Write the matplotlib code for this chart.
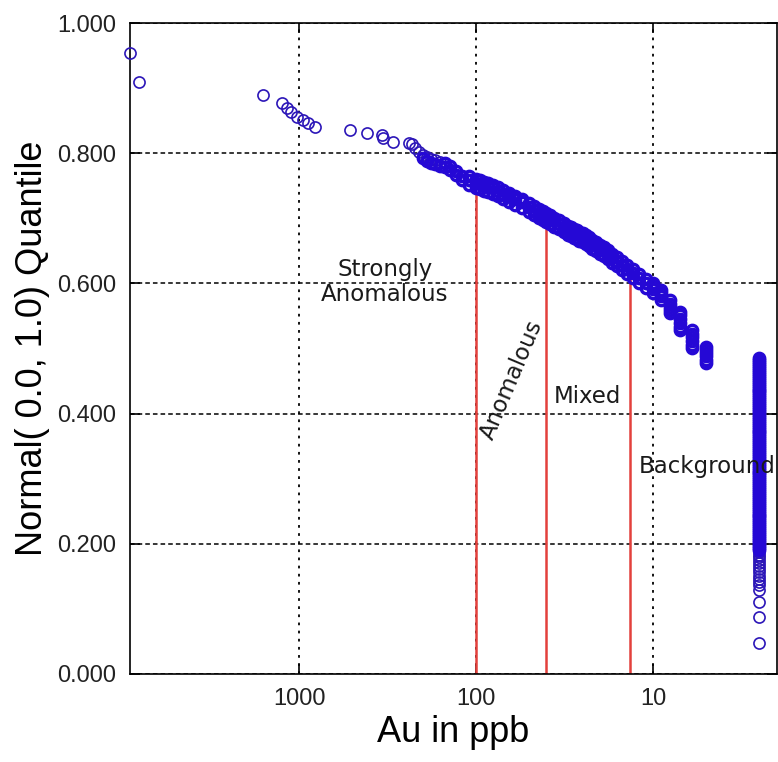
import matplotlib
matplotlib.use("Agg")
import matplotlib.pyplot as plt

# sparse high-grade samples (ppb, quantile)
au_sparse = [9000, 8020, 1596, 1247, 1169, 1110, 1026, 949, 889, 812, 515, 413, 340, 335, 294]
q_sparse = [0.954, 0.909, 0.889, 0.877, 0.869, 0.863, 0.856, 0.851, 0.846, 0.840,
            0.836, 0.831, 0.828, 0.823, 0.817]

# dense part of the curve (middle of the band)
au_curve = [240, 230, 220, 210, 200, 190, 180, 170, 160, 150, 140, 130, 120, 110, 100,
            95, 90, 85, 80, 75, 70, 65, 60, 55, 50, 47, 44, 42, 40, 38, 36, 34, 32, 30,
            29, 28, 27, 26, 25, 24, 23, 22, 21, 20, 19, 18, 17, 16, 15, 14, 13, 12, 11]
q_curve = [0.8164, 0.8141, 0.8080, 0.8018, 0.7980, 0.7942, 0.7911, 0.7888, 0.7865, 0.7842,
           0.7796, 0.7727, 0.7650, 0.7588, 0.7542, 0.7527, 0.7504, 0.7481, 0.7458, 0.7419,
           0.7373, 0.7335, 0.7289, 0.7243, 0.7181, 0.7135, 0.7089, 0.7058, 0.7020, 0.6989,
           0.6951, 0.6912, 0.6874, 0.6828, 0.6805, 0.6782, 0.6759, 0.6736, 0.6713, 0.6682,
           0.6651, 0.6613, 0.6575, 0.6536, 0.6498, 0.6452, 0.6398, 0.6344, 0.6283, 0.6221,
           0.6160, 0.6083, 0.6006]

# upper and lower edge of the band, 110 ppb down to 11 ppb
au_band = [110, 100, 95, 90, 85, 80, 75, 70, 65, 60, 55, 50, 47, 44, 42, 40, 38, 36, 34, 32,
           30, 29, 28, 27, 26, 25, 24, 23, 22, 21, 20, 19, 18, 17, 16, 15, 14, 13, 12, 11]
q_band_top = [0.7648, 0.7602, 0.7587, 0.7564, 0.7541, 0.7518, 0.7479, 0.7433, 0.7395, 0.7349,
              0.7303, 0.7241, 0.7195, 0.7149, 0.7118, 0.7080, 0.7049, 0.7011, 0.6972, 0.6934,
              0.6888, 0.6865, 0.6842, 0.6819, 0.6796, 0.6773, 0.6742, 0.6711, 0.6673, 0.6635,
              0.6596, 0.6558, 0.6512, 0.6458, 0.6404, 0.6343, 0.6281, 0.6220, 0.6143, 0.6066]
q_band_low = [0.7508, 0.7462, 0.7447, 0.7424, 0.7401, 0.7378, 0.7339, 0.7293, 0.7255, 0.7209,
              0.7163, 0.7101, 0.7055, 0.7009, 0.6978, 0.6940, 0.6909, 0.6871, 0.6832, 0.6794,
              0.6748, 0.6725, 0.6702, 0.6679, 0.6656, 0.6633, 0.6602, 0.6571, 0.6533, 0.6495,
              0.6456, 0.6418, 0.6372, 0.6318, 0.6264, 0.6203, 0.6141, 0.6080, 0.6003, 0.5926]
au_band_hi = [200, 190, 180, 170, 160, 150, 140, 130, 120]
q_band_hi = [0.7920, 0.7882, 0.7851, 0.7828, 0.7805, 0.7782, 0.7736, 0.7667, 0.7590]

# stacked low values (many samples at the same assay value)
q_at_10 = [0.601, 0.596, 0.591, 0.586]
q_at_9 = [0.590, 0.585, 0.580, 0.575]
q_at_8 = [0.574, 0.569, 0.564, 0.559, 0.555]
q_at_7 = [0.556, 0.551, 0.545, 0.539, 0.533, 0.528]
q_at_6 = [0.528, 0.523, 0.517, 0.511, 0.506, 0.501]
q_at_5 = [0.503, 0.498, 0.493, 0.488, 0.483, 0.478]
q_at_2_5 = [0.485, 0.482, 0.479, 0.476, 0.473, 0.470, 0.467, 0.464, 0.461, 0.458,
            0.455, 0.452, 0.449, 0.446, 0.443, 0.440, 0.437, 0.434, 0.431, 0.428,
            0.425, 0.422, 0.419, 0.416, 0.413, 0.410, 0.407, 0.404, 0.401, 0.398,
            0.395, 0.392, 0.389, 0.386, 0.383, 0.380, 0.377, 0.374, 0.371, 0.368,
            0.365, 0.362, 0.359, 0.356, 0.353, 0.350, 0.347, 0.344, 0.341, 0.338,
            0.335, 0.332, 0.329, 0.326, 0.323, 0.320, 0.317, 0.314, 0.311, 0.308,
            0.305, 0.302, 0.299, 0.296, 0.293, 0.290, 0.287, 0.284, 0.281, 0.278,
            0.275, 0.272, 0.269, 0.266, 0.263, 0.260, 0.257, 0.254, 0.251, 0.248,
            0.245, 0.242, 0.239, 0.236, 0.233, 0.230, 0.227, 0.224, 0.221, 0.218,
            0.215, 0.212, 0.209, 0.206, 0.203, 0.200, 0.197, 0.194, 0.191]
q_at_2_5_tail = [0.187, 0.183, 0.179, 0.175, 0.171, 0.166, 0.161, 0.156, 0.151, 0.146,
                 0.141, 0.136, 0.129, 0.111, 0.088, 0.048]

# thresholds (ppb) and where each line meets the curve
thresholds = [100, 40, 13.5]
threshold_tops = [0.739, 0.687, 0.613]

stacks = [(10, q_at_10), (9, q_at_9), (8, q_at_8), (7, q_at_7),
          (6, q_at_6), (5, q_at_5), (2.5, q_at_2_5)]

# thin open circles where samples are few, heavy ones where they pile up
au_thin = au_sparse + au_curve[:9] + [2.5] * len(q_at_2_5_tail)
q_thin = q_sparse + q_curve[:9] + q_at_2_5_tail
au_thick = au_curve[9:] + au_band + au_band + au_band_hi
q_thick = q_curve[9:] + q_band_top + q_band_low + q_band_hi
for v, qs in stacks:
    au_thick += [v] * len(qs)
    q_thick += qs

fig = plt.figure(figsize=(7.78, 7.62), dpi=100)
ax = fig.add_axes([130 / 778, 88 / 762, 647 / 778, 651 / 762])

ax.set_xscale("log")
ax.set_xlim(9016, 1.99)
ax.set_ylim(0, 1)

# ticks and grid
ax.set_xticks([1000, 100, 10])
ax.set_xticklabels(["1000", "100", "10"])
ax.xaxis.set_minor_locator(matplotlib.ticker.NullLocator())
ax.set_yticks([0, 0.2, 0.4, 0.6, 0.8, 1.0])
ax.set_yticklabels(["%.3f" % v for v in [0, 0.2, 0.4, 0.6, 0.8, 1.0]])
ax.xaxis.grid(True, color="black", linestyle=(0, (1.5, 3)), linewidth=1.3)
ax.yaxis.grid(True, color="black", linestyle=(0, (3, 2)), linewidth=1.1)
ax.set_axisbelow(True)

ax.vlines(thresholds, 0, threshold_tops, colors="#e3403c", linewidth=1.8, zorder=2)

blue = "#2508d5"
ax.plot(au_thin, q_thin, linestyle="none", marker="o", markersize=8,
        markerfacecolor="none", markeredgecolor="#2c16b8", markeredgewidth=1.2,
        clip_on=False, zorder=3)
ax.plot(au_thick, q_thick, linestyle="none", marker="o", markersize=7.5,
        markerfacecolor="none", markeredgecolor=blue, markeredgewidth=2.4,
        clip_on=False, zorder=3)

txt = dict(family="DejaVu Sans", fontsize=16.5, color="#1a1a1a", zorder=4)
ax.text(327, 0.602, "Strongly\nAnomalous", ha="center", va="center", linespacing=1.15, **txt)
ax.text(62.6, 0.452, "Anomalous", ha="center", va="center", rotation=67, **txt)
ax.text(23.3, 0.427, "Mixed", ha="center", va="center", **txt)
ax.text(4.95, 0.3195, "Background", ha="center", va="center", **txt)

for s in ax.spines.values():
    s.set_linewidth(1.2)
ax.tick_params(direction="in", length=7, width=1.2, top=True, right=True, pad=10,
               labelsize=17, labelcolor="#222222")
for lab in ax.get_xticklabels() + ax.get_yticklabels():
    lab.set_family("Liberation Sans")

ax.set_xlabel("Au in ppb", family="Liberation Sans", fontsize=26, labelpad=4)
ax.set_ylabel("Normal( 0.0, 1.0) Quantile", family="Liberation Sans", fontsize=26, labelpad=5)

fig.savefig("out.png", dpi=100)
